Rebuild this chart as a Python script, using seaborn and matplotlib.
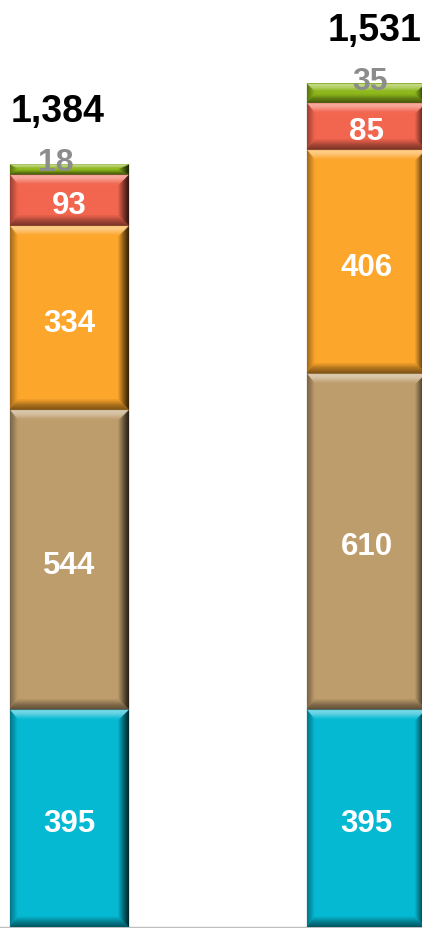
import numpy as np
import pandas as pd
import matplotlib
matplotlib.use("Agg")
import matplotlib.pyplot as plt
import seaborn as sns
from matplotlib.colors import to_rgb
from matplotlib.patches import Polygon

# ---- data -------------------------------------------------------------
periods = ["Scenario A", "Scenario B"]
layer_names = ["Base", "Core", "Growth", "Expansion", "Other"]
base = [395, 395]
core = [544, 610]
growth = [334, 406]
expansion = [93, 85]
other = [18, 35]

layer_values = [base, core, growth, expansion, other]
layer_colors = ["#05B9D3", "#BE9D6D", "#FCA62B", "#F2654F", "#8DB71B"]

# ---- style -------------------------------------------------------------
sns.set_theme(style="white")
plt.rcParams["font.family"] = ["Liberation Sans", "DejaVu Sans"]

W, H, DPI = 422, 929, 100
fig = plt.figure(figsize=(W / DPI, H / DPI), dpi=DPI)
ax = fig.add_axes([0, 1 / H, 1, (H - 1) / H])

px_per_x = 297.0      # pixels per category step
px_per_y = 0.551      # pixels per value unit

df = pd.DataFrame({"period": periods})
cum = np.zeros(len(periods))
bounds = []
for name, vals in zip(layer_names, layer_values):
    lo = cum.copy()
    cum = cum + np.array(vals, dtype=float)
    df[name] = cum
    bounds.append((lo, cum.copy()))

# stacked bars: draw cumulative heights from the top layer down
layer_patches = {}
for name, col in reversed(list(zip(layer_names, layer_colors))):
    n0 = len(ax.patches)
    sns.barplot(data=df, x="period", y=name, color=col, saturation=1,
                width=0.4, linewidth=0, ax=ax, zorder=2)
    layer_patches[name] = ax.patches[n0:]

ax.set_xlim(-69.5 / px_per_x, 1 + (W - 366.5) / px_per_x)
ax.set_ylim(0, (H - 1) / px_per_y)


def mix(c, other_c, t):
    c = np.array(to_rgb(c))
    o = np.array(to_rgb(other_c))
    return c * (1 - t) + o * t


def ramp(stops, f):
    """Piecewise-linear colour ramp over (position, rgb) stops."""
    for (p0, c0), (p1, c1) in zip(stops[:-1], stops[1:]):
        if f <= p1:
            u = 0 if p1 == p0 else (f - p0) / (p1 - p0)
            return tuple(np.clip(c0 * (1 - u) + c1 * u, 0, 1))
    return tuple(np.clip(stops[-1][1], 0, 1))


def bevel(ax, x0, x1, y0, y1, col, lpx=8, rpx=10, vpx=10, steps=10):
    bxl = lpx / px_per_x
    bxr = rpx / px_per_x
    by = min(vpx / px_per_y, 0.42 * (y1 - y0))
    sides = {
        "top": [(0, mix(col, "black", 0.15)), (0.15, mix(col, "white", 0.5)),
                (0.45, mix(col, "white", 0.4)), (1, mix(col, "white", 0.0))],
        "bottom": [(0, mix(col, "black", 0.55)), (0.5, mix(col, "black", 0.35)),
                   (1, mix(col, "black", 0.05))],
        "left": [(0, mix(col, "black", 0.4)), (1, mix(col, "black", 0.0))],
        "right": [(0, mix(col, "black", 0.85)), (0.5, mix(col, "black", 0.5)),
                  (1, mix(col, "black", 0.1))],
    }
    for i in range(steps):
        t0, t1 = i / steps, (i + 1) / steps
        f = (i + 0.5) / steps
        top = [(x0 + t0 * bxl, y1 - t0 * by), (x1 - t0 * bxr, y1 - t0 * by),
               (x1 - t1 * bxr, y1 - t1 * by), (x0 + t1 * bxl, y1 - t1 * by)]
        bot = [(x0 + t0 * bxl, y0 + t0 * by), (x1 - t0 * bxr, y0 + t0 * by),
               (x1 - t1 * bxr, y0 + t1 * by), (x0 + t1 * bxl, y0 + t1 * by)]
        left = [(x0 + t0 * bxl, y0 + t0 * by), (x0 + t0 * bxl, y1 - t0 * by),
                (x0 + t1 * bxl, y1 - t1 * by), (x0 + t1 * bxl, y0 + t1 * by)]
        right = [(x1 - t0 * bxr, y0 + t0 * by), (x1 - t0 * bxr, y1 - t0 * by),
                 (x1 - t1 * bxr, y1 - t1 * by), (x1 - t1 * bxr, y0 + t1 * by)]
        for side, pts in (("left", left), ("right", right),
                          ("top", top), ("bottom", bot)):
            c = ramp(sides[side], f)
            ax.add_patch(Polygon(pts, closed=True, facecolor=c,
                                 edgecolor=c, linewidth=0.3, zorder=3))


cap = 0.716  # cap height of digits relative to font size
seg_fs = 22.5
for li, (name, col) in enumerate(zip(layer_names, layer_colors)):
    lo, hi = bounds[li]
    for bi, p in enumerate(layer_patches[name]):
        x0 = p.get_x()
        x1 = x0 + p.get_width()
        bevel(ax, x0, x1, lo[bi], hi[bi], col)
        xc = x0 + p.get_width() / 2
        val = layer_values[li][bi]
        if name == "Other":
            dx = [-9.5, 2.5][bi]
            ax.annotate(f"{val:,}", xy=(xc, hi[bi]), xytext=(dx, -4.3),
                        textcoords="offset points", ha="center", va="baseline",
                        fontsize=23, fontweight="bold", color="#8C8C8C",
                        zorder=5)
        else:
            ax.annotate(f"{val:,}", xy=(xc, (lo[bi] + hi[bi]) / 2),
                        xytext=(0, -cap * seg_fs / 2 - 1.4),
                        textcoords="offset points",
                        ha="center", va="baseline", fontsize=seg_fs,
                        fontweight="bold", color="white", zorder=5)

# totals above each stack
totals = bounds[-1][1]
for bi, p in enumerate(layer_patches[layer_names[0]]):
    xc = p.get_x() + p.get_width() / 2
    dx = [-8.5, 5.5][bi]
    ax.annotate(f"{int(totals[bi]):,}", xy=(xc, totals[bi]), xytext=(dx, 31.5),
                textcoords="offset points", ha="center", va="baseline",
                fontsize=27, fontweight="bold", color="black", zorder=5)

ax.set_xlabel("")
ax.set_ylabel("")
ax.set_xticks([])
ax.set_yticks([])
sns.despine(ax=ax, left=True, top=True, right=True)
ax.spines["bottom"].set_color("#BFBFBF")
ax.spines["bottom"].set_linewidth(1.0)

fig.savefig("out.png", dpi=DPI)
